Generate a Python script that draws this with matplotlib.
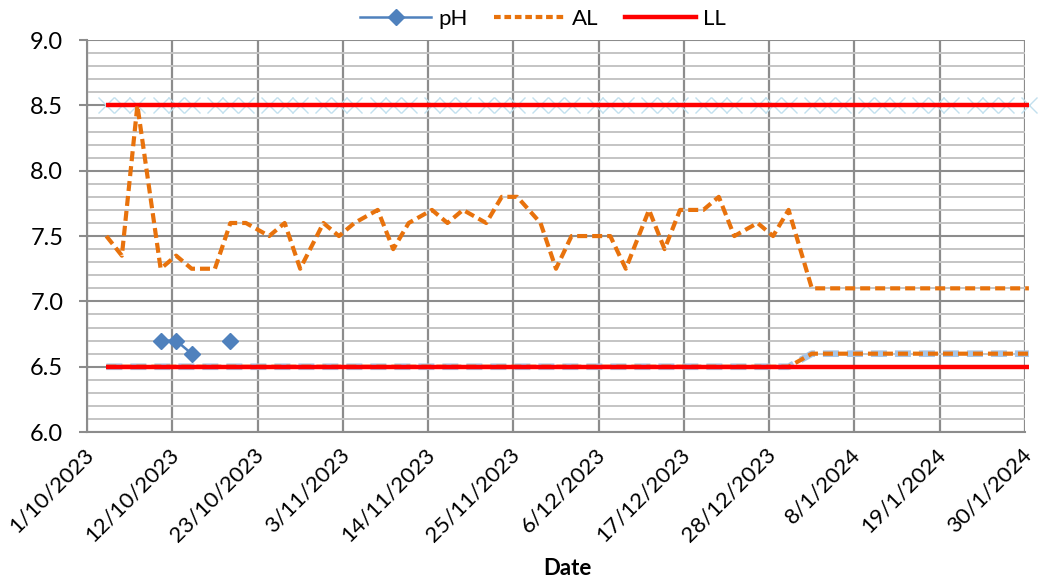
import numpy as np
import pandas as pd
import matplotlib
matplotlib.use('Agg')
import matplotlib.pyplot as plt
import matplotlib.transforms as mtransforms
from matplotlib.lines import Line2D
from matplotlib.ticker import MultipleLocator, FormatStrFormatter

plt.rcParams['font.family'] = ['Lato', 'DejaVu Sans']

# sampling dates (Tue / Thu / Sat)
sample_dates = [
    '3/10/2023', '5/10/2023', '7/10/2023', '10/10/2023', '12/10/2023', '14/10/2023', '17/10/2023',
    '19/10/2023', '21/10/2023', '24/10/2023', '26/10/2023', '28/10/2023', '31/10/2023',
    '2/11/2023', '4/11/2023', '7/11/2023', '9/11/2023', '11/11/2023', '14/11/2023', '16/11/2023',
    '18/11/2023', '21/11/2023', '23/11/2023', '25/11/2023', '28/11/2023', '30/11/2023',
    '2/12/2023', '5/12/2023', '7/12/2023', '9/12/2023', '12/12/2023', '14/12/2023', '16/12/2023',
    '19/12/2023', '21/12/2023', '23/12/2023', '26/12/2023', '28/12/2023', '30/12/2023',
    '2/1/2024', '4/1/2024', '6/1/2024', '9/1/2024', '11/1/2024', '13/1/2024', '16/1/2024',
    '18/1/2024', '20/1/2024', '23/1/2024', '25/1/2024', '27/1/2024', '30/1/2024',
]

# upper action limit
al_upper = [
    7.5, 7.35, 8.5, 7.25, 7.35, 7.25, 7.25, 7.6, 7.6, 7.5, 7.6, 7.25, 7.6,
    7.5, 7.6, 7.7, 7.4, 7.6, 7.7, 7.6, 7.7, 7.6, 7.8, 7.8, 7.6, 7.25,
    7.5, 7.5, 7.5, 7.25, 7.7, 7.4, 7.7, 7.7, 7.8, 7.5, 7.6, 7.5, 7.7,
    7.1, 7.1, 7.1, 7.1, 7.1, 7.1, 7.1, 7.1, 7.1, 7.1, 7.1, 7.1, 7.1,
]

# lower action limit
al_lower = [6.5] * 39 + [6.6] * 13

# limits
ll_lower = [6.5] * 52
ll_upper = [8.5] * 52

# pH readings
ph_dates = ['10/10/2023', '12/10/2023', '14/10/2023', '17/10/2023', '19/10/2023']
ph_values = [6.7, 6.7, 6.6, np.nan, 6.7]

tick_labels = ['1/10/2023', '12/10/2023', '23/10/2023', '3/11/2023', '14/11/2023', '25/11/2023',
               '6/12/2023', '17/12/2023', '28/12/2023', '8/1/2024', '19/1/2024', '30/1/2024']

origin = pd.Timestamp('2023-10-01')

def to_days(lst):
    d = pd.to_datetime(lst, dayfirst=True)
    return np.asarray((d - origin).days, dtype=float)

# excel puts each point in the middle of its day
x = to_days(sample_dates) + 0.5
x_ph = to_days(ph_dates) + 0.5
x_ticks = to_days(tick_labels)

fig = plt.figure(figsize=(10.38, 5.8), dpi=100)
ax = fig.add_axes([0.0838, 0.255, 0.9037, 0.676])

orange = '#e8720c'
red = '#ff0000'
blue = '#4f81bd'
pale = '#a9c6e6'

ax.plot(x, al_lower, color=pale, lw=4.8, dashes=(2.4, 1.2), zorder=2, clip_on=False)
ax.plot(x, ll_upper, ls='none', marker='x', ms=11, mew=1.0, color='#c2e0ee', zorder=2, clip_on=False)
ax.plot(x, al_lower, color=orange, lw=3, dashes=(2.4, 1.2), zorder=3, clip_on=False)
ax.plot(x, ll_lower, color=red, lw=3.2, zorder=4, clip_on=False, solid_capstyle='butt')
ax.plot(x, ll_upper, color=red, lw=3.2, zorder=4, clip_on=False, solid_capstyle='butt')
ax.plot(x, al_upper, color=orange, lw=3, dashes=(2.4, 1.2), zorder=5, clip_on=False)
ax.plot(x_ph, ph_values, color=blue, lw=1.8, marker='D', ms=8.5, zorder=6, clip_on=False)

ax.set_xlim(0, 121)
ax.set_ylim(6.0, 9.0)
ax.yaxis.set_major_locator(MultipleLocator(0.5))
ax.yaxis.set_minor_locator(MultipleLocator(0.1))
ax.yaxis.set_major_formatter(FormatStrFormatter('%.1f'))
ax.set_xticks(x_ticks)
ax.set_xticklabels(tick_labels, rotation=45, ha='right', va='center', rotation_mode='anchor')

ax.set_axisbelow(True)
ax.grid(axis='x', color='#8c8c8c', lw=1.6)
ax.grid(axis='y', which='major', color='#8c8c8c', lw=1.5)
ax.grid(axis='y', which='minor', color='#c4c4c4', lw=1.4)

for s in ['top', 'right']:
    ax.spines[s].set_visible(False)
for s in ['left', 'bottom']:
    ax.spines[s].set_color('#8c8c8c')
    ax.spines[s].set_linewidth(1.5)

ax.tick_params(axis='y', which='major', length=6, color='#8c8c8c', width=1.5, labelsize=17, pad=11)
ax.tick_params(axis='y', which='minor', length=0)
ax.tick_params(axis='x', length=0, labelsize=16, pad=14)

offset = mtransforms.ScaledTranslation(0.03, 0, fig.dpi_scale_trans)
for lab in ax.get_xticklabels():
    lab.set_transform(lab.get_transform() + offset)

ax.set_xlabel('Date', fontsize=16, fontweight='bold')
ax.xaxis.set_label_coords(0.512, -0.32)

handles = [
    Line2D([], [], color=blue, lw=1.8, marker='D', ms=8.5),
    Line2D([], [], color=orange, lw=3, dashes=(1.6, 0.9)),
    Line2D([], [], color=red, lw=3.2),
]
fig.legend(handles, ['pH', 'AL', 'LL'], loc='center', bbox_to_anchor=(0.523, 0.968), ncol=3,
           frameon=False, fontsize=16, handlelength=3.2, columnspacing=1.2, handletextpad=0.3)

fig.savefig('out.png', dpi=100)
